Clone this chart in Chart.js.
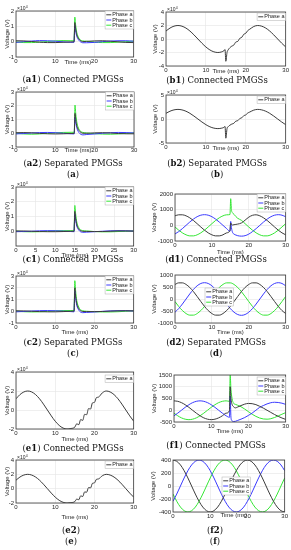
<!DOCTYPE html>
<html lang="en">
<head>
<meta charset="UTF-8">
<title>PMGS fault voltages</title>
<script src="https://cdn.jsdelivr.net/npm/chart.js"></script>
<style>
  body { margin: 0; background: #fff; }
  #fig { position: relative; width: 291px; height: 550px; overflow: hidden; }
  #fig canvas { position: absolute; }
  .cap { position: absolute; transform: translate(-50%, -50%); font-family: "DejaVu Serif", serif; font-size: 8.5px; color: #111; white-space: nowrap; }
</style>
</head>
<body>
<div id="fig"></div>
<script>
// ---- time bases (ms) ----
var tSpike = [0, 2, 4, 6, 8, 10, 12, 14, 14.8, 15, 15.2, 15.5, 16, 16.5, 17, 18, 20, 22, 24, 26, 28, 30];
var tB = [0, 1, 2, 3, 4, 5, 6, 7, 8, 9, 10, 11, 12, 13, 14, 14.5, 14.8, 15, 15.3, 15.6, 16, 16.5, 17, 17.5, 18, 18.5, 19, 19.5, 20, 20.5, 21, 22, 23, 24, 25, 26, 27, 28, 29, 30];
var tE = [0, 1, 2, 3, 4, 5, 6, 7, 8, 9, 10, 11, 12, 13, 14, 15, 15.5, 16, 16.5, 17, 17.5, 18, 18.5, 19, 19.5, 20, 20.5, 21, 22, 23, 24, 25, 26, 27, 28, 29, 30];
var tD = [0, 1, 2, 3, 4, 5, 6, 7, 8, 9, 10, 11, 12, 13, 14, 15, 16, 17, 18, 19, 20, 21, 22, 23, 24, 25, 26, 27, 28, 29, 30];
var tFault = [0, 1, 2, 3, 4, 5, 6, 7, 8, 9, 10, 11, 12, 13, 14, 14.9, 15.1, 15.3, 15.6, 16, 16.5, 17, 18, 19, 20, 21, 22, 23, 24, 25, 26, 27, 28, 29, 30];

var phaseNames = ['Phase a', 'Phase b', 'Phase c'];

// ---- (a) x10^4 V ----
var a1PhaseA = [0.06, 0.05, 0.01, -0.03, -0.06, -0.06, -0.04, -0.02, -0.01, 1.25, 0.85, 0.45, 0.18, 0.06, 0.0, 0.02, 0.05, 0.06, 0.03, -0.01, -0.05, -0.06];
var a1PhaseB = [-0.05, 0.0, 0.04, 0.07, 0.06, 0.03, -0.01, -0.04, -0.04, 1.05, 0.7, 0.35, 0.1, -0.02, -0.07, -0.07, -0.05, 0.0, 0.04, 0.06, 0.06, 0.03];
var a1PhaseC = [-0.01, -0.06, -0.06, -0.03, 0.01, 0.05, 0.07, 0.06, 0.06, 1.6, 1.1, 0.6, 0.25, 0.1, 0.05, 0.03, -0.03, -0.06, -0.06, -0.03, 0.0, 0.04];
var a2PhaseA = [0.04, 0.05, 0.03, -0.01, -0.04, -0.05, -0.04, -0.02, -0.01, 1.45, 0.95, 0.5, 0.2, 0.06, 0.0, 0.0, 0.03, 0.04, 0.02, -0.02, -0.04, -0.04];
var a2PhaseB = [-0.05, -0.02, 0.02, 0.05, 0.06, 0.04, 0.0, -0.04, -0.05, 1.15, 0.75, 0.35, 0.05, -0.08, -0.12, -0.09, -0.05, 0.0, 0.04, 0.06, 0.05, 0.02];
var a2PhaseC = [0.0, -0.05, -0.07, -0.05, -0.01, 0.03, 0.06, 0.07, 0.07, 2.05, 1.4, 0.75, 0.3, 0.12, 0.06, 0.02, -0.03, -0.06, -0.07, -0.05, -0.01, 0.03];

// ---- (b) x10^4 V ----
var b1PhaseA = [1.18, 1.62, 1.9, 2.0, 1.9, 1.62, 1.18, 0.62, 0.0, -0.62, -1.18, -1.62, -1.9, -2.0, -1.9, -1.75, -1.55, -3.3, -2.0, -1.6, -1.3, -1.05, -0.9, -0.45, -0.35, 0.1, 0.25, 0.7, 0.85, 1.25, 1.45, 1.85, 2.0, 1.9, 1.62, 1.18, 0.62, 0.0, -0.62, -1.18];
var b2PhaseA = [1.18, 1.62, 1.9, 2.0, 1.9, 1.62, 1.18, 0.62, 0.0, -0.62, -1.18, -1.62, -1.9, -2.0, -1.9, -1.75, -1.55, -4.0, -2.0, -1.6, -1.3, -1.05, -0.9, -0.45, -0.35, 0.1, 0.25, 0.7, 0.85, 1.25, 1.45, 1.85, 2.0, 1.9, 1.62, 1.18, 0.62, 0.0, -0.62, -1.18];

// ---- (c) x10^4 V ----
var c1PhaseA = [0.02, 0.02, 0.0, -0.02, -0.03, -0.03, -0.02, 0.0, 0.0, 1.35, 0.9, 0.45, 0.15, 0.04, 0.0, -0.01, -0.02, -0.02, 0.0, 0.02, 0.02, 0.01];
var c1PhaseB = [-0.03, -0.02, 0.0, 0.03, 0.04, 0.03, 0.01, -0.02, -0.03, 1.15, 0.75, 0.35, 0.08, -0.04, -0.07, -0.06, -0.03, 0.0, 0.03, 0.04, 0.03, 0.01];
var c1PhaseC = [0.01, -0.03, -0.04, -0.03, 0.0, 0.03, 0.04, 0.04, 0.04, 1.75, 1.2, 0.62, 0.25, 0.1, 0.04, 0.02, -0.02, -0.04, -0.04, -0.02, 0.0, 0.02];
var c2PhaseA = [0.04, 0.03, 0.0, -0.03, -0.05, -0.05, -0.03, 0.0, 0.01, 2.0, 1.3, 0.65, 0.22, 0.05, -0.02, -0.03, -0.03, -0.02, 0.01, 0.03, 0.04, 0.03];
var c2PhaseB = [-0.05, -0.02, 0.02, 0.05, 0.06, 0.04, 0.01, -0.03, -0.05, 1.7, 1.1, 0.5, 0.1, -0.08, -0.12, -0.1, -0.06, -0.01, 0.03, 0.05, 0.05, 0.02];
var c2PhaseC = [0.01, -0.04, -0.06, -0.05, -0.01, 0.03, 0.06, 0.06, 0.06, 2.6, 1.75, 0.9, 0.35, 0.12, 0.04, 0.0, -0.04, -0.06, -0.06, -0.04, 0.0, 0.04];

// ---- (d) V ----
var d1PhaseA = [606, 672, 672, 606, 481, 309, 106, -106, -309, -481, -606, -672, -672, -606, -481, -330, 150, 60, 20, 40, 60, 80, 150, 330, 520, 640, 672, 606, 481, 309, 106, -106, -309, -481, -606];
var d1PhaseB = [-550, -400, -210, 0, 210, 400, 550, 647, 680, 647, 550, 400, 210, 0, -210, -380, 250, -150, -450, -560, -620, -660, -690, -660, -560, -400, -210, 0, 210, 400, 550, 647, 680, 647, 550];
var d1PhaseC = [-106, -309, -481, -606, -672, -672, -606, -481, -309, -106, 106, 309, 481, 606, 672, 690, 1700, 1000, 800, 700, 560, 450, 320, 106, -106, -309, -481, -606, -672, -672, -606, -481, -309, -106, 106];
var d2PhaseA = [606, 672, 672, 606, 481, 309, 106, -106, -309, -481, -606, -672, -672, -606, -481, -309, -106, 106, 309, 481, 606, 672, 672, 606, 481, 309, 106, -106, -309, -481, -606];
var d2PhaseB = [-550, -400, -210, 0, 210, 400, 550, 647, 680, 647, 550, 400, 210, 0, -210, -400, -550, -647, -680, -647, -550, -400, -210, 0, 210, 400, 550, 647, 680, 647, 550];
var d2PhaseC = [-106, -309, -481, -606, -672, -672, -606, -481, -309, -106, 106, 309, 481, 606, 672, 672, 606, 481, 309, 106, -106, -309, -481, -606, -672, -672, -606, -481, -309, -106, 106];

// ---- (e) x10^4 V ----
var e1PhaseA = [1.18, 1.62, 1.9, 2.0, 1.9, 1.62, 1.18, 0.62, 0.0, -0.62, -1.18, -1.62, -1.9, -2.0, -1.95, -1.8, -1.45, -1.55, -1.0, -1.1, -0.45, -0.5, 0.15, 0.1, 0.75, 0.8, 1.3, 1.35, 1.8, 2.0, 1.9, 1.62, 1.18, 0.62, 0.0, -0.62, -1.18];
var e2PhaseA = [1.18, 1.62, 1.9, 2.0, 1.9, 1.62, 1.18, 0.62, 0.0, -0.62, -1.18, -1.62, -1.9, -2.0, -1.95, -1.8, -1.45, -1.55, -1.0, -1.1, -0.45, -0.5, 0.15, 0.1, 0.75, 0.8, 1.3, 1.35, 1.8, 2.0, 1.9, 1.62, 1.18, 0.62, 0.0, -0.62, -1.18];

// ---- (f) V ----
var f1PhaseA = [400, 380, 324, 235, 124, 0, -124, -235, -324, -380, -400, -380, -324, -235, -124, -20, 1000, 500, 250, 150, 100, 130, 200, 260, 290, 280, 240, 170, 90, 0, -90, -180, -260, -330, -390];
var f1PhaseB = [-235, -124, 0, 124, 235, 324, 380, 400, 380, 324, 235, 124, 0, -124, -235, -300, 600, -300, -450, -480, -470, -440, -380, -310, -220, -120, 0, 120, 200, 270, 320, 340, 330, 300, 250];
var f1PhaseC = [-124, -235, -324, -380, -400, -380, -324, -235, -124, 0, 124, 235, 324, 380, 400, 380, 1500, 900, 500, 300, 250, 220, 150, 50, -60, -170, -260, -330, -370, -380, -360, -310, -240, -170, -100];
var f2PhaseA = [400, 380, 324, 235, 124, 0, -124, -235, -324, -380, -400, -380, -324, -235, -124, 0, 124, 235, 324, 380, 400, 380, 324, 235, 124, 0, -124, -235, -324, -380, -400];
var f2PhaseB = [-235, -124, 0, 124, 235, 324, 380, 400, 380, 324, 235, 124, 0, -124, -235, -324, -380, -400, -380, -324, -235, -124, 0, 124, 235, 324, 380, 400, 380, 324, 235];
var f2PhaseC = [-124, -235, -324, -380, -400, -380, -324, -235, -124, 0, 124, 235, 324, 380, 400, 380, 324, 235, 124, 0, -124, -235, -324, -380, -400, -380, -324, -235, -124, 0, 124];

var colours = ['#3c3c3c', '#3a3aff', '#35e635'];
var fontSans = '"Liberation Sans", Arial, sans-serif';

// frame, axis titles, exponent and legend drawn like MATLAB
const decoPlugin = {
    id: 'deco',
    afterDraw(chart, args, o) {
        const ctx = chart.ctx;
        const ca = chart.chartArea;
        ctx.save();
        ctx.strokeStyle = '#3a3a3a';
        ctx.lineWidth = 0.8;
        ctx.strokeRect(ca.left, ca.top, ca.right - ca.left, ca.bottom - ca.top);

        ctx.fillStyle = '#262626';
        ctx.font = '6px ' + fontSans;
        ctx.textAlign = 'center';
        ctx.textBaseline = 'middle';
        ctx.fillText('Time (ms)', (ca.left + ca.right) / 2 + (o.xShift || 0), ca.bottom + o.xTitleDy);

        ctx.save();
        ctx.translate(ca.left + o.yTitleDx, (ca.top + ca.bottom) / 2);
        ctx.rotate(-Math.PI / 2);
        ctx.fillText('Voltage (V)', 0, 0);
        ctx.restore();

        if (o.exp) {
            ctx.textAlign = 'left';
            ctx.textBaseline = 'alphabetic';
            ctx.font = '5px ' + fontSans;
            ctx.fillText('\u00d710', ca.left + 1, ca.top - 1);
            const w = ctx.measureText('\u00d710').width;
            ctx.font = '3.5px ' + fontSans;
            ctx.fillText(o.exp, ca.left + 1.3 + w, ca.top - 3.5);
        }

        // legend box
        const sets = chart.data.datasets;
        ctx.font = '5.5px ' + fontSans;
        const rowH = 5.2, pad = 1.2, lineLen = 5;
        let tw = 0;
        sets.forEach(d => { tw = Math.max(tw, ctx.measureText(d.label).width); });
        const w = pad + lineLen + 1 + tw + pad;
        const h = sets.length * rowH + 2 * pad;
        const x = o.legendX != null ? ca.left + o.legendX : ca.right - w;
        const y = o.legendY != null ? ca.top + o.legendY : ca.top;
        ctx.fillStyle = '#fff';
        ctx.fillRect(x, y, w, h);
        ctx.strokeStyle = '#b0b0b0';
        ctx.lineWidth = 0.5;
        ctx.strokeRect(x, y, w, h);
        ctx.textAlign = 'left';
        ctx.textBaseline = 'middle';
        sets.forEach((d, i) => {
            const cy = y + pad + rowH * (i + 0.5);
            ctx.strokeStyle = d.borderColor;
            ctx.lineWidth = 1;
            ctx.beginPath();
            ctx.moveTo(x + pad, cy);
            ctx.lineTo(x + pad + lineLen, cy);
            ctx.stroke();
            ctx.fillStyle = '#222';
            ctx.fillText(d.label, x + pad + lineLen + 1, cy);
        });
        ctx.restore();
    }
};

const fig = document.getElementById('fig');

function addChart(c) {
    const colX = c.col === 0 ? 0 : 146;
    const L = c.box[0], T = c.box[1], R = c.box[2], B = c.box[3];
    const padTop = 10, xh = 24;
    const w = R - colX + 4, h = B - T + padTop + xh;
    const cv = document.createElement('canvas');
    cv.width = w;
    cv.height = h;
    cv.style.left = colX + 'px';
    cv.style.top = (T - padTop) + 'px';
    cv.style.width = w + 'px';
    cv.style.height = h + 'px';
    fig.appendChild(cv);

    const datasets = c.series.map((s, i) => ({
        label: phaseNames[i],
        data: c.time.map((t, k) => ({ x: t, y: s[k] })),
        borderColor: colours[i],
        borderWidth: 1,
        pointRadius: 0,
        fill: false,
        cubicInterpolationMode: 'monotone'
    }));

    new Chart(cv, {
        type: 'line',
        data: { datasets: datasets },
        plugins: [decoPlugin],
        options: {
            responsive: false,
            animation: false,
            devicePixelRatio: 1,
            layout: { padding: { left: 0, top: padTop, right: 4, bottom: 0 } },
            plugins: {
                legend: { display: false },
                tooltip: { enabled: false },
                deco: c.deco
            },
            scales: {
                x: {
                    type: 'linear',
                    min: 0, max: 30,
                    afterFit: (s) => { s.height = xh; },
                    border: { display: false },
                    grid: { color: '#e4e4e4', lineWidth: 0.6, drawTicks: false },
                    ticks: { stepSize: c.xStep || 10, autoSkip: false, maxRotation: 0, padding: c.xPad != null ? c.xPad : 1, color: '#262626', font: { size: 6, family: fontSans } }
                },
                y: {
                    min: c.y[0], max: c.y[1],
                    afterFit: (s) => { s.width = L - colX; },
                    border: { display: false },
                    grid: { color: '#e4e4e4', lineWidth: 0.6, drawTicks: false },
                    ticks: {
                        stepSize: c.y[2], autoSkip: false, padding: 2, color: '#262626', font: { size: 6, family: fontSans },
                        callback: (v) => (c.hide && c.hide.indexOf(v) >= 0) ? '' : v
                    }
                }
            }
        }
    });
}

addChart({ col: 0, box: [16, 11, 134, 57], y: [-1, 2, 1], time: tSpike, series: [a1PhaseA, a1PhaseB, a1PhaseC],
    deco: { exp: '4', xTitleDy: 5, xShift: 3, yTitleDx: -9 } });
addChart({ col: 1, box: [166, 12, 286, 66], y: [-4, 4, 2], time: tB, series: [b1PhaseA],
    deco: { exp: '4', xTitleDy: 5, yTitleDx: -10.5, legendY: 1 } });
addChart({ col: 0, box: [16, 92, 134, 147], y: [-1, 3, 1], time: tSpike, series: [a2PhaseA, a2PhaseB, a2PhaseC],
    deco: { exp: '4', xTitleDy: 3.5, xShift: 3, yTitleDx: -9 }, xPad: 0 });
addChart({ col: 1, box: [166, 95, 286, 143], y: [-5, 5, 5], time: tB, series: [b2PhaseA],
    deco: { exp: '4', xTitleDy: 5, yTitleDx: -10.5, legendY: 1 } });
addChart({ col: 0, box: [16, 187, 134, 246], y: [-1, 3, 1], xStep: 5, time: tSpike, series: [c1PhaseA, c1PhaseB, c1PhaseC], hide: [-1],
    deco: { exp: '4', xTitleDy: 9, yTitleDx: -9 } });
addChart({ col: 1, box: [175, 194, 286, 241], y: [-1000, 2000, 1000], time: tFault, series: [d1PhaseA, d1PhaseB, d1PhaseC],
    deco: { xTitleDy: 11, yTitleDx: -21 } });
addChart({ col: 0, box: [16, 276, 134, 323], y: [-1, 3, 1], time: tSpike, series: [c2PhaseA, c2PhaseB, c2PhaseC],
    deco: { exp: '4', xTitleDy: 9, yTitleDx: -9 } });
addChart({ col: 1, box: [175, 275, 286, 323], y: [-1000, 1000, 500], time: tD, series: [d2PhaseA, d2PhaseB, d2PhaseC],
    deco: { xTitleDy: 9, yTitleDx: -21, legendX: 30, legendY: 13 } });
addChart({ col: 0, box: [16, 372, 134, 429], y: [-2, 4, 2], time: tE, series: [e1PhaseA],
    deco: { exp: '4', xTitleDy: 10, yTitleDx: -9, legendY: 3 } });
addChart({ col: 1, box: [174, 375, 286, 422], y: [-500, 1500, 500], time: tFault, series: [f1PhaseA, f1PhaseB, f1PhaseC],
    deco: { xTitleDy: 9, yTitleDx: -20, legendY: 2 } });
addChart({ col: 0, box: [16, 460, 134, 503], y: [-2, 4, 2], time: tE, series: [e2PhaseA],
    deco: { exp: '4', xTitleDy: 14, yTitleDx: -9, legendY: 1 } });
addChart({ col: 1, box: [173, 460, 285, 512], y: [-400, 400, 200], time: tD, series: [f2PhaseA, f2PhaseB, f2PhaseC],
    deco: { xTitleDy: 3, xShift: 5, yTitleDx: -20, legendX: 49, legendY: 17 } });

// captions
var captions = [
    [73, 79, '(<b>a1</b>) Connected PMGSs'], [217, 80, '(<b>b1</b>) Connected PMGSs'],
    [73, 163, '(<b>a2</b>) Separated PMGSs'], [73, 174, '(<b>a</b>)'],
    [217, 163, '(<b>b2</b>) Separated PMGSs'], [217, 174, '(<b>b</b>)'],
    [73, 259, '(<b>c1</b>) Connected PMGSs'], [216, 259, '(<b>d1</b>) Connected PMGSs'],
    [73, 342, '(<b>c2</b>) Separated PMGSs'], [73, 353, '(<b>c</b>)'],
    [216, 342, '(<b>d2</b>) Separated PMGSs'], [216, 353, '(<b>d</b>)'],
    [73, 448, '(<b>e1</b>) Connected PMGSs'], [216, 445, '(<b>f1</b>) Connected PMGSs'],
    [71, 530, '(<b>e2</b>)'], [71, 541, '(<b>e</b>)'],
    [215, 530, '(<b>f2</b>)'], [215, 541, '(<b>f</b>)']
];
captions.forEach(function (c) {
    var d = document.createElement('div');
    d.className = 'cap';
    d.style.left = c[0] + 'px';
    d.style.top = c[1] + 'px';
    d.innerHTML = c[2];
    fig.appendChild(d);
});
</script>
</body>
</html>
